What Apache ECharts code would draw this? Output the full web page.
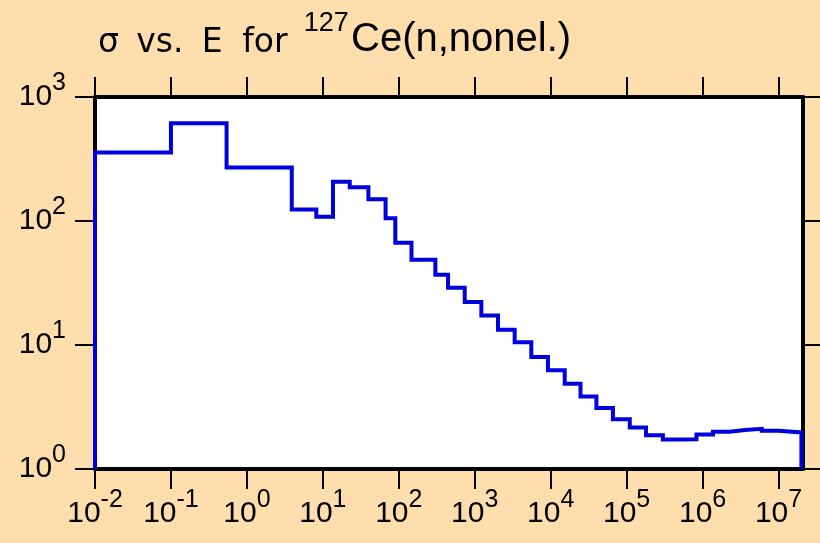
<!DOCTYPE html>
<html>
<head>
<meta charset="utf-8">
<script src="https://cdn.jsdelivr.net/npm/echarts@6/dist/echarts.min.js"></script>
<style>
html,body{margin:0;padding:0;background:#FFDEAD;}
#chart{width:820px;height:543px;}
</style>
</head>
<body>
<div id="chart"></div>
<script>
// Bin boundaries of energy E (eV)
const binEdges = [0.01, 0.1, 0.54, 3.9, 8.2, 13.6, 22.6, 39.8, 67, 90, 147, 303, 445, 738, 1222, 2023, 3356, 5559, 9200, 15300, 24700, 40000, 66000, 110000, 180000, 300000, 500000, 830000, 1370000, 2270000, 3650000, 6000000, 10000000, 20000000];
// Cross section sigma (b) for each bin
const sigma = [357, 615, 270, 124, 108, 207, 187, 150, 105, 66.7, 48.7, 36.9, 29, 22.2, 17.3, 13.3, 10.5, 8.0, 6.26, 4.87, 3.85, 3.11, 2.52, 2.16, 1.87, 1.73, 1.74, 1.90, 2.0, 2.06, 2.11, 2.03, 1.97];
// Tick labels (powers of ten)
const xTickExps = [-2, -1, 0, 1, 2, 3, 4, 5, 6, 7];
const yTickVals = [1, 10, 100, 1000];
const xAxisMin = 0.01;
const xAxisMax = 2.1e7;
const yAxisMin = 1;
const yAxisMax = 1000;

// Step path built from the bins (x in log10 space)
const stepData = [[Math.log10(binEdges[0]), yAxisMin]];
for (let i = 0; i < sigma.length; i++) {
  stepData.push([Math.log10(binEdges[i]), sigma[i]]);
  stepData.push([Math.log10(binEdges[i + 1]), sigma[i]]);
}
stepData.push([Math.log10(binEdges[binEdges.length - 1]), yAxisMin]);

const FONT = 'Liberation Sans, Arial, Helvetica, sans-serif';
const WIDE = 'DejaVu Sans, Verdana, sans-serif';
const tickRich = {
  b: {fontFamily: FONT, fontSize: 30, fontWeight: 'normal', color: '#000', lineHeight: 52, verticalAlign: 'middle'},
  s: {fontFamily: FONT, fontSize: 25, fontWeight: 'normal', color: '#000', lineHeight: 20, verticalAlign: 'top'}
};
const lineBlack = {color: '#000', width: 4};
const tickStyle = {show: true, inside: false, length: 20, lineStyle: {color: '#000', width: 2}};

function xLab(v) {
  const e = Math.round(v);
  if (Math.abs(v - e) > 1e-6) return '';
  return '{b|10}{s|' + e + '}';
}
function yLab(v) {
  return '{b|10}{s|' + Math.round(Math.log10(v)) + '}';
}

const xLogMin = Math.log10(xAxisMin);
const xLogMax = Math.log10(xAxisMax);

function tTok(padLeft) {
  return {fontFamily: WIDE, fontSize: 33, fontWeight: 'normal', color: '#000', lineHeight: 38, verticalAlign: 'bottom', padding: [0, 0, 0, padLeft]};
}

const chart = echarts.init(document.getElementById('chart'), null, {renderer: 'canvas'});
chart.setOption({
  backgroundColor: '#FFDEAD',
  animation: false,
  title: {
    left: 98,
    top: 10,
    padding: 0,
    text: '{t1|σ}{t2|vs.}{t3|E}{t4|for}{s|127}{b|Ce(n,nonel.)}',
    textStyle: {
      fontWeight: 'normal',
      fontSize: 30,
      rich: {
        t1: tTok(0),
        t2: tTok(17.3),
        t3: tTok(18.4),
        t4: tTok(19.5),
        s: {fontFamily: FONT, fontSize: 27, fontWeight: 'normal', color: '#000', lineHeight: 30, verticalAlign: 'top', padding: [0, 0, 0, 16.2]},
        b: {fontFamily: FONT, fontSize: 40, fontWeight: 'normal', color: '#000', lineHeight: 50, verticalAlign: 'bottom', padding: [0, 0, 0, 2.2]}
      }
    }
  },
  grid: {
    left: 95, right: 17, top: 97, bottom: 74,
    show: true, backgroundColor: '#ffffff', borderWidth: 0
  },
  xAxis: [{
    type: 'value', position: 'bottom',
    min: xLogMin, max: xLogMax, interval: 1,
    axisLine: {show: true, onZero: false, lineStyle: lineBlack},
    axisTick: Object.assign({customValues: xTickExps}, tickStyle),
    axisLabel: {show: true, margin: 18.5, customValues: xTickExps, formatter: xLab, rich: tickRich},
    splitLine: {show: false}
  }, {
    type: 'value', position: 'top',
    min: xLogMin, max: xLogMax, interval: 1,
    axisLine: {show: true, onZero: false, lineStyle: lineBlack},
    axisTick: Object.assign({customValues: xTickExps}, tickStyle),
    axisLabel: {show: false},
    splitLine: {show: false}
  }],
  yAxis: [{
    type: 'log', logBase: 10, position: 'left',
    min: yAxisMin, max: yAxisMax,
    axisLine: {show: true, onZero: false, lineStyle: lineBlack},
    axisTick: tickStyle,
    axisLabel: {show: true, margin: 29, formatter: yLab, rich: tickRich},
    splitLine: {show: false}, minorTick: {show: false}
  }, {
    type: 'log', logBase: 10, position: 'right',
    min: yAxisMin, max: yAxisMax,
    axisLine: {show: true, onZero: false, lineStyle: lineBlack},
    axisTick: tickStyle,
    axisLabel: {show: false},
    splitLine: {show: false}
  }],
  series: [{
    type: 'line',
    xAxisIndex: 0, yAxisIndex: 0,
    data: stepData,
    showSymbol: false, symbol: 'none',
    clip: false,
    lineStyle: {color: '#0000dd', width: 4, join: 'miter', cap: 'butt'},
    z: 10
  }]
});
</script>
</body>
</html>
